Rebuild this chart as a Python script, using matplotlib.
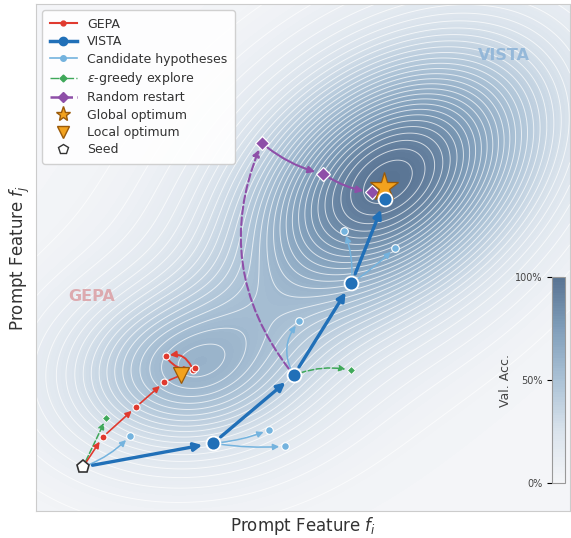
import numpy as np
import matplotlib.pyplot as plt
from matplotlib.colors import LinearSegmentedColormap
from matplotlib.lines import Line2D

# landscape peaks (x, y, sigma_major, sigma_minor, angle_deg, height)
peak_global = [6.62, 6.52, 2.3, 1.5, 40, 0.95]
peak_local = [2.78, 2.75, 1.6, 1.15, 5, 0.50]
peak_broad = [5.0, 5.0, 4.0, 2.6, 45, 0.05]

# trajectories (data coords, 0..10 box)
seed = (0.88, 0.87)
gepa_x = [0.88, 1.25, 1.87, 2.40, 2.94]
gepa_y = [0.87, 1.46, 2.05, 2.54, 2.78]
gepa_loop_x = [2.94, 2.43, 2.98]
gepa_loop_y = [2.78, 3.06, 2.82]
local_opt = (2.71, 2.68)
vista_x = [0.88, 3.32, 4.83, 5.91, 6.54]
vista_y = [0.87, 1.34, 2.68, 4.50, 6.15]
global_opt = (6.52, 6.40)
# candidate hypotheses: (parent index on VISTA path, x, y, curvature)
cand_parent = [0, 1, 1, 2, 3, 3]
cand_x = [1.76, 4.36, 4.66, 4.93, 5.77, 6.72]
cand_y = [1.48, 1.60, 1.28, 3.74, 5.53, 5.19]
cand_rad = [0.12, 0.08, 0.06, -0.35, 0.12, 0.05]
# epsilon-greedy explore: (start x, start y, end x, end y)
eps_start = [(0.88, 0.87), (4.83, 2.68)]
eps_end = [(1.32, 1.84), (5.90, 2.78)]
# random restart
restart_x = [4.83, 4.23, 5.38, 6.29]
restart_y = [2.68, 7.26, 6.65, 6.29]

c_gepa = '#e03a2f'
c_vista = '#2170b8'
c_cand = '#74b3de'
c_eps = '#3fa85a'
c_rr = '#8e4fa8'
c_star = '#f2a21e'

cmap = LinearSegmentedColormap.from_list(
    'acc', ['#f4f5f8', '#dae3ec', '#abc2d6', '#809eba', '#587392'])


def gauss(X, Y, p):
    cx, cy, sa, sb, ang, h = p
    t = np.deg2rad(ang)
    u = (X - cx) * np.cos(t) + (Y - cy) * np.sin(t)
    v = -(X - cx) * np.sin(t) + (Y - cy) * np.cos(t)
    return h * np.exp(-0.5 * ((u / sa) ** 2 + (v / sb) ** 2))


xs = np.linspace(0, 10, 300)
ys = np.linspace(0, 10, 300)
X, Y = np.meshgrid(xs, ys)
Z = gauss(X, Y, peak_global) + gauss(X, Y, peak_local) + gauss(X, Y, peak_broad)
Z = np.clip(Z, 0, 1)

fig = plt.figure(figsize=(5.71, 5.38), dpi=100)
ax = fig.add_axes([0.063, 0.050, 0.935, 0.9424])
cf = ax.contourf(X, Y, Z, levels=np.linspace(0, 1, 80), cmap=cmap, vmin=0, vmax=1)
ax.contour(X, Y, Z, levels=np.linspace(0.03, 1, 32), colors='white', linewidths=0.7, alpha=0.7)
ax.set_xlim(0, 10)
ax.set_ylim(0, 10)
ax.set_xticks([])
ax.set_yticks([])
for s in ax.spines.values():
    s.set_color('#cccccc')
ax.set_xlabel('Prompt Feature $f_i$', fontsize=12, color='#333333', labelpad=3)
ax.set_ylabel('Prompt Feature $f_j$', fontsize=12, color='#333333', labelpad=3)


def arrow(p0, p1, color, lw, rad=0.0, ls='-', sa=4, sb=4, ms=10):
    ax.annotate('', xy=p1, xytext=p0,
                arrowprops=dict(arrowstyle='-|>', color=color, lw=lw, ls=ls,
                                shrinkA=sa, shrinkB=sb, mutation_scale=ms,
                                connectionstyle=f'arc3,rad={rad}'), zorder=4)


# candidates
for i in range(len(cand_x)):
    p0 = (vista_x[cand_parent[i]], vista_y[cand_parent[i]])
    arrow(p0, (cand_x[i], cand_y[i]), c_cand, 1.1, rad=cand_rad[i], sa=5, sb=4, ms=9)
ax.plot(cand_x, cand_y, 'o', color=c_cand, ms=5.5, mec='white', mew=0.8, zorder=5)

# eps-greedy
for (a, b), r in zip(zip(eps_start, eps_end), [0.0, -0.15]):
    arrow(a, b, c_eps, 1.1, rad=r, ls='--', sa=5, sb=4, ms=9)
ax.plot([p[0] for p in eps_end], [p[1] for p in eps_end], 'D', color=c_eps,
        ms=4.5, mec='white', mew=0.6, zorder=5)

# random restart
arrow((restart_x[0], restart_y[0]), (restart_x[1], restart_y[1]), c_rr, 1.5, rad=-0.3, ls='--', sa=6, sb=5)
arrow((restart_x[1], restart_y[1]), (restart_x[2], restart_y[2]), c_rr, 1.5, rad=0.12, sa=5, sb=6)
arrow((restart_x[2], restart_y[2]), (restart_x[3], restart_y[3]), c_rr, 1.5, rad=0.12, sa=5, sb=6)
ax.plot(restart_x[1:], restart_y[1:], 'D', color=c_rr, ms=7, mec='white', mew=0.9, zorder=6)

# GEPA
for i in range(len(gepa_x) - 1):
    arrow((gepa_x[i], gepa_y[i]), (gepa_x[i + 1], gepa_y[i + 1]), c_gepa, 1.2, sa=4, sb=4, ms=9)
arrow((gepa_loop_x[0], gepa_loop_y[0]), (gepa_loop_x[1], gepa_loop_y[1]), c_gepa, 1.4, rad=0.45, sa=3, sb=3, ms=9)
arrow((gepa_loop_x[1], gepa_loop_y[1]), (gepa_loop_x[2], gepa_loop_y[2]), c_gepa, 1.4, rad=0.35, sa=3, sb=3, ms=9)
ax.plot(local_opt[0], local_opt[1], 'v', color=c_star, ms=12, mec='#9a5a0a', mew=0.9, zorder=6)
ax.plot(gepa_x[1:] + gepa_loop_x[1:], gepa_y[1:] + gepa_loop_y[1:], 'o', color=c_gepa,
        ms=5, mec='white', mew=0.8, zorder=7)

# VISTA
for i in range(len(vista_x) - 1):
    arrow((vista_x[i], vista_y[i]), (vista_x[i + 1], vista_y[i + 1]), c_vista, 2.4, sa=7, sb=8, ms=12)
ax.plot(global_opt[0], global_opt[1], '*', color=c_star, ms=21, mec='#9a5a0a', mew=0.9, zorder=6)
ax.plot(vista_x[1:], vista_y[1:], 'o', color=c_vista, ms=10, mec='white', mew=1.3, zorder=7)
ax.plot(seed[0], seed[1], 'p', color='white', ms=9.5, mec='#333333', mew=1.2, zorder=8)

ax.text(0.6, 4.15, 'GEPA', fontsize=11.5, fontweight='bold', color='#dca3a8', alpha=0.9, zorder=3)
ax.text(8.28, 8.9, 'VISTA', fontsize=11.5, fontweight='bold', color='#8fb5d8', alpha=0.9, zorder=3)

handles = [
    Line2D([], [], color=c_gepa, lw=1.5, marker='o', ms=3.5),
    Line2D([], [], color=c_vista, lw=2.5, marker='o', ms=6),
    Line2D([], [], color=c_cand, lw=1.2, marker='o', ms=4),
    Line2D([], [], color=c_eps, lw=1.0, ls='-.', marker='D', ms=3.5),
    Line2D([], [], color=c_rr, lw=1.8, ls='--', marker='D', ms=5.5),
    Line2D([], [], ls='none', marker='*', color=c_star, mec='#9a5a0a', ms=11),
    Line2D([], [], ls='none', marker='v', color=c_star, mec='#9a5a0a', ms=9),
    Line2D([], [], ls='none', marker='p', color='white', mec='#333333', ms=7.5),
]
labels = ['GEPA', 'VISTA', 'Candidate hypotheses', r'$\varepsilon$-greedy explore',
          'Random restart', 'Global optimum', 'Local optimum', 'Seed']
leg = ax.legend(handles, labels, loc='upper left', fontsize=9, frameon=True,
                framealpha=0.9, edgecolor='#cccccc', borderpad=0.6, labelspacing=0.35,
                handlelength=2.2, bbox_to_anchor=(0.0, 1.0))
for t in leg.get_texts():
    t.set_color('#333333')

cax = fig.add_axes([0.967, 0.102, 0.023, 0.383])
cb = fig.colorbar(cf, cax=cax, ticks=[0, 0.5, 1])
cb.ax.set_yticklabels(['0%', '50%', '100%'], fontsize=7, color='#444444')
cb.ax.yaxis.set_ticks_position('left')
cb.ax.yaxis.set_label_position('left')
cb.set_label('Val. Acc.', fontsize=9, color='#444444', labelpad=2)
cb.outline.set_edgecolor('#999999')
cb.outline.set_linewidth(0.8)

fig.savefig('out.png', dpi=100)
